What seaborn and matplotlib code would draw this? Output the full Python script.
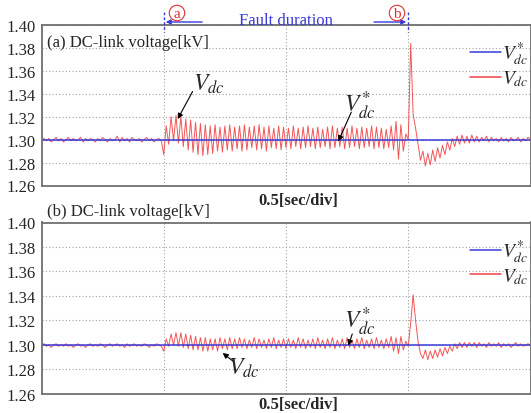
import numpy as np
import pandas as pd
import matplotlib
matplotlib.use("Agg")
import matplotlib.pyplot as plt
import seaborn as sns
from matplotlib.lines import Line2D
from matplotlib.transforms import blended_transform_factory

# ---------------- data (kV) ----------------
t_step = 0.01
vdc_a = [
    1.300, 1.301, 1.299, 1.301, 1.298, 1.300, 1.302, 1.299, 1.301, 1.298,
    1.300, 1.302, 1.299, 1.301, 1.299, 1.300, 1.302, 1.298, 1.301, 1.299,
    1.301, 1.300, 1.298, 1.301, 1.299, 1.302, 1.300, 1.298, 1.301, 1.299,
    1.300, 1.303, 1.298, 1.302, 1.299, 1.301, 1.298, 1.302, 1.300, 1.299,
    1.301, 1.298, 1.300, 1.302, 1.299, 1.301, 1.298, 1.300, 1.301, 1.299,
    1.287, 1.312, 1.296, 1.320, 1.299, 1.321, 1.297, 1.320, 1.294, 1.318,
    1.291, 1.317, 1.289, 1.315, 1.287, 1.314, 1.286, 1.313, 1.287, 1.312,
    1.288, 1.313, 1.290, 1.311, 1.289, 1.312, 1.291, 1.313, 1.290, 1.311,
    1.292, 1.312, 1.290, 1.313, 1.291, 1.311, 1.293, 1.312, 1.291, 1.313,
    1.292, 1.311, 1.290, 1.312, 1.293, 1.310, 1.292, 1.312, 1.291, 1.311,
    1.293, 1.310, 1.292, 1.312, 1.294, 1.310, 1.292, 1.311, 1.293, 1.312,
    1.294, 1.310, 1.292, 1.311, 1.293, 1.309, 1.294, 1.311, 1.292, 1.312,
    1.293, 1.310, 1.294, 1.311, 1.292, 1.310, 1.293, 1.312, 1.294, 1.310,
    1.292, 1.311, 1.293, 1.310, 1.294, 1.312, 1.292, 1.311, 1.293, 1.310,
    1.292, 1.309, 1.293, 1.312, 1.291, 1.316, 1.283, 1.313, 1.290, 1.305,
    1.300, 1.384, 1.322, 1.310, 1.296, 1.282, 1.290, 1.277, 1.288, 1.278,
    1.291, 1.281, 1.293, 1.284, 1.295, 1.287, 1.298, 1.291, 1.301, 1.294,
    1.303, 1.296, 1.304, 1.297, 1.303, 1.297, 1.304, 1.298, 1.303, 1.298,
    1.302, 1.299, 1.303, 1.298, 1.302, 1.299, 1.301, 1.298, 1.302, 1.299,
    1.301, 1.298, 1.302, 1.299, 1.300, 1.302, 1.298, 1.301, 1.299, 1.302,
    1.300,
]
vdc_b = [
    1.300, 1.301, 1.299, 1.300, 1.298, 1.300, 1.301, 1.299, 1.300, 1.299,
    1.301, 1.299, 1.300, 1.298, 1.300, 1.301, 1.299, 1.300, 1.298, 1.300,
    1.301, 1.299, 1.300, 1.299, 1.301, 1.300, 1.298, 1.300, 1.301, 1.299,
    1.300, 1.301, 1.299, 1.300, 1.298, 1.301, 1.299, 1.300, 1.301, 1.299,
    1.300, 1.299, 1.301, 1.300, 1.298, 1.300, 1.299, 1.301, 1.300, 1.299,
    1.295, 1.305, 1.299, 1.309, 1.300, 1.310, 1.299, 1.310, 1.298, 1.309,
    1.297, 1.308, 1.296, 1.307, 1.296, 1.306, 1.295, 1.306, 1.295, 1.305,
    1.296, 1.305, 1.295, 1.306, 1.297, 1.305, 1.296, 1.306, 1.297, 1.305,
    1.297, 1.306, 1.298, 1.305, 1.297, 1.304, 1.298, 1.306, 1.297, 1.305,
    1.298, 1.304, 1.297, 1.305, 1.298, 1.306, 1.297, 1.304, 1.298, 1.305,
    1.297, 1.305, 1.298, 1.304, 1.297, 1.306, 1.298, 1.305, 1.297, 1.304,
    1.298, 1.305, 1.297, 1.306, 1.298, 1.304, 1.297, 1.305, 1.298, 1.306,
    1.297, 1.304, 1.298, 1.305, 1.297, 1.306, 1.298, 1.304, 1.297, 1.305,
    1.298, 1.306, 1.297, 1.304, 1.298, 1.305, 1.297, 1.306, 1.298, 1.304,
    1.297, 1.305, 1.298, 1.307, 1.295, 1.306, 1.293, 1.307, 1.296, 1.303,
    1.299, 1.318, 1.341, 1.320, 1.303, 1.293, 1.289, 1.296, 1.288, 1.295,
    1.289, 1.296, 1.290, 1.297, 1.291, 1.298, 1.293, 1.299, 1.295, 1.301,
    1.297, 1.302, 1.298, 1.302, 1.298, 1.302, 1.299, 1.302, 1.298, 1.302,
    1.299, 1.301, 1.298, 1.302, 1.299, 1.301, 1.299, 1.302, 1.298, 1.301,
    1.299, 1.301, 1.298, 1.300, 1.302, 1.299, 1.301, 1.299, 1.300, 1.301,
    1.300,
]
t_ref = [0.0, 2.0]
vref = [1.30, 1.30]
fault_start = 0.5
fault_end = 1.5
yticks = [1.26, 1.28, 1.30, 1.32, 1.34, 1.36, 1.38, 1.40]
ytick_labels = ["1.26", "1.28", "1.30", "1.32", "1.34", "1.36", "1.38", "1.40"]
xgrid = [0.5, 1.0, 1.5]
titles = ["(a) DC-link voltage[kV]", "(b) DC-link voltage[kV]"]
xlabel = "0.5[sec/div]"

# ---------------- style ----------------
sns.set_style("white")
plt.rcParams["font.family"] = ["Liberation Serif", "DejaVu Serif"]
plt.rcParams["mathtext.fontset"] = "stix"

W, H = 531, 414
fig = plt.figure(figsize=(W / 100, H / 100), dpi=100)

def fx(px):
    return px / W

def fy(py):
    return 1 - py / H

RED = "#f04444"
BLUE = "#3a3ad8"
FRAME = "#707070"
GRID = "#a0a0a0"

ax_a = fig.add_axes([fx(41.5), fy(186.5), fx(530.5) - fx(41.5), fy(26) - fy(186.5)])
ax_b = fig.add_axes([fx(41.5), fy(395), fx(530.5) - fx(41.5), fy(223.5) - fy(395)])

t = np.round(np.arange(len(vdc_a)) * t_step, 2)
df_a = pd.DataFrame({"t": t, "v": vdc_a})
df_b = pd.DataFrame({"t": t, "v": vdc_b})
df_ref = pd.DataFrame({"t": t_ref, "v": vref})

for ax, df in [(ax_a, df_a), (ax_b, df_b)]:
    sns.lineplot(data=df, x="t", y="v", ax=ax, color=RED, lw=0.7, alpha=0.9, sort=False,
                 estimator=None, legend=False)
    sns.lineplot(data=df_ref, x="t", y="v", ax=ax, color=BLUE, lw=1.1, sort=False,
                 estimator=None, legend=False)
    ax.set_xlim(0, 2.0)
    ax.set_ylim(1.26, 1.40)
    ax.set_yticks(yticks)
    ax.set_yticklabels(ytick_labels, fontsize=12)
    ax.set_xticks(xgrid)
    ax.set_xticklabels([])
    ax.tick_params(length=0, pad=4)
    ax.set_xlabel("")
    ax.set_ylabel("")
    ax.grid(True, linestyle=(0, (1, 2)), color=GRID, lw=0.8)
    ax.set_axisbelow(True)
    for s in ax.spines.values():
        s.set_color(FRAME)
        s.set_linewidth(1.3)
    handles = [Line2D([0], [0], color=BLUE, lw=1.1), Line2D([0], [0], color=RED, lw=1.1)]
    ax.legend(handles, [r"$V_{dc}^{*}$", r"$V_{dc}$"], loc="upper right",
              frameon=False, fontsize=14, handlelength=1.55, handletextpad=0.05,
              labelspacing=0.05, borderaxespad=0.1, bbox_to_anchor=(1.015, 0.97))

# titles
fig.text(fx(47), fy(43), titles[0], fontsize=12, ha="left", va="center")
fig.text(fx(47), fy(212), titles[1], fontsize=12, ha="left", va="center")

# x labels
fig.text(fx(298), fy(201), xlabel, fontsize=12, fontweight="bold", ha="center", va="center")
fig.text(fx(298), fy(405), xlabel, fontsize=12, fontweight="bold", ha="center", va="center")

# annotations
arrow_kw = dict(arrowstyle="-|>", color="black", lw=0.8, mutation_scale=8,
                shrinkA=0, shrinkB=0)
ax_a.text(0.684, 1.349, r"$V_{dc}$", fontsize=17, ha="center", va="center")
ax_a.annotate("", xy=(0.557, 1.318), xytext=(0.618, 1.342), arrowprops=arrow_kw)
ax_a.text(1.304, 1.330, r"$V_{dc}^{*}$", fontsize=17, ha="center", va="center")
ax_a.annotate("", xy=(1.214, 1.2985), xytext=(1.267, 1.324), arrowprops=arrow_kw)

ax_b.text(1.304, 1.320, r"$V_{dc}^{*}$", fontsize=17, ha="center", va="center")
ax_b.annotate("", xy=(1.255, 1.2995), xytext=(1.271, 1.309), arrowprops=arrow_kw)
ax_b.text(0.827, 1.282, r"$V_{dc}$", fontsize=17, ha="center", va="center")
ax_b.annotate("", xy=(0.741, 1.2935), xytext=(0.782, 1.287), arrowprops=arrow_kw)

# fault duration markers (x in data, y in figure)
tr = blended_transform_factory(ax_a.transData, fig.transFigure)
for xv in [fault_start, fault_end]:
    fig.add_artist(Line2D([xv, xv], [fy(13), fy(33)], transform=tr, color=BLUE,
                          lw=1.0, linestyle=(0, (2, 1.5))))
ax_a.annotate("", xy=(fault_start + 0.008, fy(23)), xytext=(fault_start + 0.157, fy(23)),
              xycoords=tr, textcoords=tr, annotation_clip=False,
              arrowprops=dict(arrowstyle="-|>", color=BLUE, lw=1.0, mutation_scale=7,
                              shrinkA=0, shrinkB=0))
ax_a.annotate("", xy=(fault_end - 0.008, fy(23)), xytext=(fault_end - 0.14, fy(23)),
              xycoords=tr, textcoords=tr, annotation_clip=False,
              arrowprops=dict(arrowstyle="-|>", color=BLUE, lw=1.0, mutation_scale=7,
                              shrinkA=0, shrinkB=0))
fig.text(fx(286), fy(21), "Fault duration", fontsize=12, color=BLUE, ha="center", va="center")
for px, lab in [(177, "a"), (397, "b")]:
    fig.text(fx(px), fy(14), lab, fontsize=11, color="#e03030", ha="center", va="center",
             bbox=dict(boxstyle="circle,pad=0.08", fc="none", ec="#e03030", lw=0.8))

fig.savefig("out.png", dpi=100)
